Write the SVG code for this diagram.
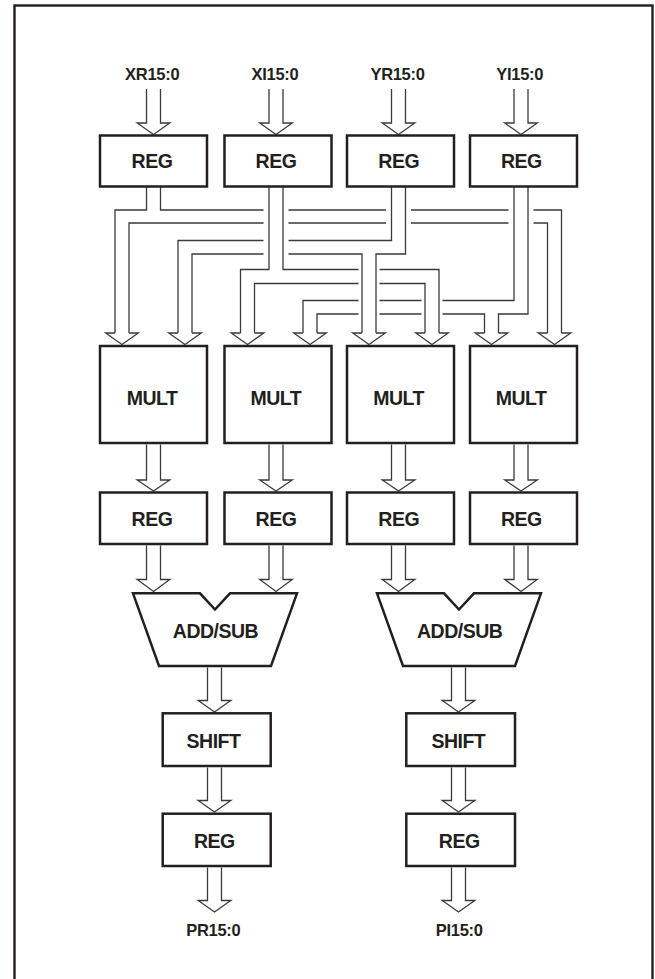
<svg xmlns="http://www.w3.org/2000/svg" width="655" height="979" viewBox="0 0 655 979">
<style>
.box{fill:#fff;stroke:#231f20;stroke-width:2.5}
.w{fill:none;stroke:#3a3a3a;stroke-width:1.3}
.t{font-family:"Liberation Sans",Arial,sans-serif;font-weight:bold;font-size:19.5px;letter-spacing:-0.5px;text-anchor:middle;fill:#231f20}
.io{font-size:16.5px;letter-spacing:-0.3px}
</style>
<rect x="0" y="0" width="655" height="979" fill="#fff"/>
<rect x="14.5" y="5.5" width="638" height="1000" fill="none" stroke="#231f20" stroke-width="2.4"/>
<g id="labels-in">
<text class="t io" x="152.2" y="80">XR15:0</text>
<text class="t io" x="275" y="80">XI15:0</text>
<text class="t io" x="397.5" y="80">YR15:0</text>
<text class="t io" x="519.7" y="80">YI15:0</text>
</g>
<g id="connectors" class="w">
<path d="M146.5,89V123H137.2L153.5,134.5L169.8,123H160.5V89"/>
<path d="M269,89V123H259.7L276,134.5L292.3,123H283V89"/>
<path d="M391.5,89V123H382.2L398.5,134.5L414.8,123H405.5V89"/>
<path d="M514,89V123H504.7L521,134.5L537.3,123H528V89"/>
<path d="M146.5,187V210H115V333"/>
<path d="M160.5,187V210H263.5M288.5,210H386M411,210H508.5M533.5,210H561.5V333"/>
<path d="M129,333V223H263.5M288.5,223H386M411,223H508.5M533.5,223H547.5V333"/>
<path d="M391.5,187V240.5H288.5M263.5,240.5H178V333"/>
<path d="M405.5,187V254H376V333"/>
<path d="M192,333V254H263.5M288.5,254H362V333"/>
<path d="M269,187V269.5H240.5V333"/>
<path d="M283,187V269.5H358.5M379.5,269.5H439V333"/>
<path d="M254.5,333V283.5H358.5M379.5,283.5H425V333"/>
<path d="M514,187V300.5H442.5M421.5,300.5H379.5M358.5,300.5H303V333"/>
<path d="M528,187V314H498.5V333"/>
<path d="M317,333V314H358.5M379.5,314H421.5M442.5,314H484.5V333"/>
<path d="M115,333H105.7L122,344.5L138.3,333H129"/>
<path d="M178,333H168.7L185,344.5L201.3,333H192"/>
<path d="M240.5,333H231.2L247.5,344.5L263.8,333H254.5"/>
<path d="M303,333H293.7L310,344.5L326.3,333H317"/>
<path d="M362,333H352.7L369,344.5L385.3,333H376"/>
<path d="M425,333H415.7L432,344.5L448.3,333H439"/>
<path d="M484.5,333H475.2L491.5,344.5L507.8,333H498.5"/>
<path d="M547.5,333H538.2L554.5,344.5L570.8,333H561.5"/>
<path d="M146.5,444.5V480H137.2L153.5,491L169.8,480H160.5V444.5"/>
<path d="M269,444.5V480H259.7L276,491L292.3,480H283V444.5"/>
<path d="M391.5,444.5V480H382.2L398.5,491L414.8,480H405.5V444.5"/>
<path d="M514,444.5V480H504.7L521,491L537.3,480H528V444.5"/>
<path d="M146.5,545.5V579.5H137.2L153.5,591.5L169.8,579.5H160.5V545.5"/>
<path d="M269,545.5V579.5H259.7L276,591.5L292.3,579.5H283V545.5"/>
<path d="M391.5,545.5V579.5H382.2L398.5,591.5L414.8,579.5H405.5V545.5"/>
<path d="M514,545.5V579.5H504.7L521,591.5L537.3,579.5H528V545.5"/>
<path d="M207.5,667.5V700.5H198.2L214.5,712L230.8,700.5H221.5V667.5"/>
<path d="M451.5,667.5V700.5H442.2L458.5,712L474.8,700.5H465.5V667.5"/>
<path d="M207.5,767.5V800.5H198.2L214.5,812L230.8,800.5H221.5V767.5"/>
<path d="M451.5,767.5V800.5H442.2L458.5,812L474.8,800.5H465.5V767.5"/>
<path d="M207.5,867.5V900.5H198.2L214.5,912L230.8,900.5H221.5V867.5"/>
<path d="M451.5,867.5V900.5H442.2L458.5,912L474.8,900.5H465.5V867.5"/>
</g>
<g id="reg-xr"><rect class="box" x="100" y="135.5" width="107" height="51"/><text class="t" x="152" y="168.3">REG</text></g>
<g id="reg-xi"><rect class="box" x="224.5" y="135.5" width="107" height="51"/><text class="t" x="276" y="168.3">REG</text></g>
<g id="reg-yr"><rect class="box" x="347" y="135.5" width="107" height="51"/><text class="t" x="398.7" y="168.3">REG</text></g>
<g id="reg-yi"><rect class="box" x="470" y="135.5" width="107" height="51"/><text class="t" x="521.3" y="168.3">REG</text></g>
<g id="mult-1"><rect class="box" x="100" y="346" width="107" height="97"/><text class="t" x="152" y="404.8">MULT</text></g>
<g id="mult-2"><rect class="box" x="224.5" y="346" width="107" height="97"/><text class="t" x="275.8" y="404.8">MULT</text></g>
<g id="mult-3"><rect class="box" x="347" y="346" width="107" height="97"/><text class="t" x="398.5" y="404.8">MULT</text></g>
<g id="mult-4"><rect class="box" x="470" y="346" width="107" height="97"/><text class="t" x="521" y="404.8">MULT</text></g>
<g id="reg-m1"><rect class="box" x="100" y="492.5" width="107" height="51.5"/><text class="t" x="152" y="526">REG</text></g>
<g id="reg-m2"><rect class="box" x="224.5" y="492.5" width="107" height="51.5"/><text class="t" x="276" y="526">REG</text></g>
<g id="reg-m3"><rect class="box" x="347" y="492.5" width="107" height="51.5"/><text class="t" x="398.7" y="526">REG</text></g>
<g id="reg-m4"><rect class="box" x="470" y="492.5" width="107" height="51.5"/><text class="t" x="521.3" y="526">REG</text></g>
<g id="addsub-r"><polygon class="box" points="133,593.3 200,593.3 215,609.5 230,593.3 297,593.3 271,666 159,666"/><text class="t" x="215.5" y="638">ADD/SUB</text></g>
<g id="addsub-i"><polygon class="box" points="377,593.3 444,593.3 459,609.5 474,593.3 541,593.3 515,666 403,666"/><text class="t" x="459.7" y="638">ADD/SUB</text></g>
<g id="shift-r"><rect class="box" x="162.7" y="713.3" width="108" height="52.7"/><text class="t" x="213.5" y="748">SHIFT</text></g>
<g id="shift-i"><rect class="box" x="406.3" y="713.3" width="108.7" height="52.7"/><text class="t" x="458.3" y="748">SHIFT</text></g>
<g id="reg-pr"><rect class="box" x="162.7" y="813.7" width="108" height="52.3"/><text class="t" x="214.3" y="848">REG</text></g>
<g id="reg-pi"><rect class="box" x="406.3" y="813.7" width="108.7" height="52.3"/><text class="t" x="459.2" y="848">REG</text></g>
<g id="labels-out">
<text class="t io" x="213.3" y="936">PR15:0</text>
<text class="t io" x="459.2" y="936">PI15:0</text>
</g>
</svg>
